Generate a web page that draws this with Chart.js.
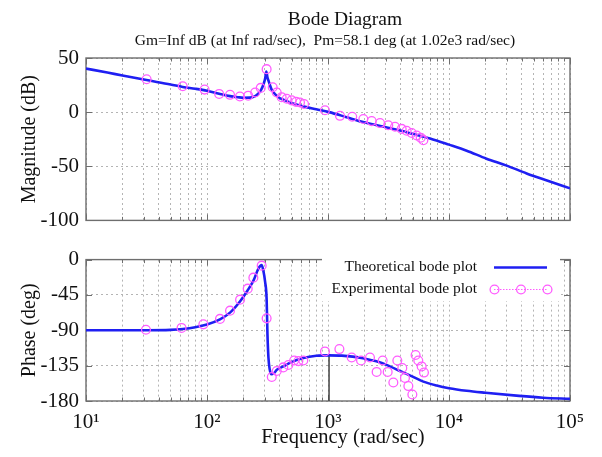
<!DOCTYPE html>
<html>
<head>
<meta charset="utf-8">
<title>Bode Diagram</title>
<script src="https://cdn.jsdelivr.net/npm/chart.js@4.4.1/dist/chart.umd.min.js"></script>
<style>
  html, body { margin: 0; padding: 0; background: #ffffff; }
  #wrap { position: relative; width: 602px; height: 457px; overflow: hidden; }
  #magBox { position: absolute; left: 0; top: 0; width: 602px; height: 240px; }
  #phaseBox { position: absolute; left: 0; top: 240px; width: 602px; height: 217px; }
</style>
</head>
<body>
<div id="wrap">
  <div id="magBox"><canvas id="magChart"></canvas></div>
  <div id="phaseBox"><canvas id="phaseChart"></canvas></div>
</div>
<script>
// ---- Axis definitions ----
const decades = [10, 100, 1000, 10000, 100000];
const decadeLabels = ['10\u00B9', '10\u00B2', '10\u00B3', '10\u2074', '10\u2075'];
const magTicks = [50, 0, -50, -100];
const phaseTicks = [0, -45, -90, -135, -180];

// ---- Stability margins ----
const pmDeg = 58.1;      // phase margin, deg
const pmFreq = 1020;     // gain crossover, rad/sec
const titleText = 'Bode Diagram';
const subtitleText = 'Gm=Inf dB (at Inf rad/sec),  Pm=' + pmDeg + ' deg (at 1.02e3 rad/sec)';

// ---- Theoretical response ----
const theoMagFreq = [10, 15, 20, 31.6, 50, 63, 80, 100, 126, 155, 180, 200, 225, 250, 265, 280, 295, 303, 309, 316, 324, 340, 355, 390, 427, 500, 631, 800, 1020, 1400, 1950, 2700, 3800, 5000, 6966, 10000, 14000, 20400, 30000, 43800, 64500, 100000];
const theoMagDb   = [40.2, 36.6, 33.8, 29.6, 25.6, 23.3, 21.6, 19.7, 17.0, 14.8, 13.8, 13.3, 13.4, 14.8, 17.0, 20.5, 26.7, 31.5, 37.5, 32.0, 28.2, 21.5, 18.1, 13.8, 11.5, 8.4, 5.2, 2.6, 0, -4.4, -9.2, -12.8, -16.5, -20.0, -24.3, -30.0, -35.6, -43.0, -49.4, -56.6, -63.2, -70.4];

const theoPhaseFreq = [10, 31.6, 50, 63, 80, 100, 128, 155, 188, 215, 242, 266, 283, 292, 302, 311, 316, 322, 330, 340, 355, 380, 427, 500, 625, 800, 1020, 1300, 1600, 2000, 2512, 3150, 3936, 5000, 6138, 7907, 10000, 14000, 20000, 38000, 60000, 100000];
const theoPhaseDeg  = [-90, -90, -89.5, -88.3, -86, -82.5, -76, -67.5, -53, -40, -26.8, -11.5, -7, -14, -28, -50, -95, -125, -140, -146, -145, -140, -136, -130.5, -125.4, -122.5, -121.9, -122.2, -123.5, -126, -129.5, -135, -141.8, -149, -155.3, -160.3, -163.7, -167, -169.5, -173.5, -175.8, -177.3];

// ---- Measured response ----
const expMagFreq = [31.7, 63, 95.5, 126, 155, 187, 219, 250, 278, 311, 349, 377, 414, 456, 501, 545, 587, 634, 944, 1256, 1585, 1959, 2296, 2692, 3148, 3581, 4064, 4467, 4920, 5408, 5834, 6138];
const expMagDb   = [30.4, 23.9, 20.8, 16.8, 16.0, 14.4, 15.2, 18.1, 22.4, 39.7, 23.0, 18.1, 13.8, 12.4, 10.9, 9.5, 8.9, 7.5, 1.7, -3.4, -4.3, -6.3, -8.3, -10.1, -12.1, -13.5, -15.5, -17.2, -19.3, -21.6, -23.6, -25.9];

const expPhaseFreq = [31.3, 61.6, 93.3, 128, 155, 187.6, 217, 241.6, 283, 311, 343, 377, 427, 470, 525, 569, 625, 944, 1242, 1570, 1875, 2223, 2523, 2831, 3112, 3467, 3741, 4111, 4325, 4613, 4977, 5297, 5572, 5943, 6209];
const expPhaseDeg  = [-89.3, -87, -82.4, -75.5, -65, -51, -37, -23, -7.7, -74.8, -149.5, -141.8, -137.2, -134.2, -128.4, -129.2, -128.4, -116.9, -113.9, -124.6, -128.4, -124.6, -143, -128.4, -143, -156.4, -128.4, -138, -150.6, -161, -171.7, -121.5, -128.4, -136, -143.8];

// ---- Styling ----
const SERIF = "'Liberation Serif', 'Times New Roman', serif";
const BLUE = '#1f1ff2';
const MAGENTA = '#ff5cff';
const GRID = '#b4b4b4';
const FRAME = '#6e6e6e';
const INK = '#111111';

const toPoints = (xs, ys) => xs.map((x, i) => ({ x: x, y: ys[i] }));

function logGridTicks() {
  const out = [];
  decades.forEach((d, i) => {
    if (i === decades.length - 1) { out.push({ value: d }); return; }
    for (let m = 1; m < 10; m++) out.push({ value: d * m });
  });
  return out;
}

// frame around the plot area plus short inward tick marks on every edge
const framePlugin = {
  id: 'frame',
  beforeDatasetsDraw(chart) {
    const { ctx, chartArea: a, scales } = chart;
    ctx.save();
    ctx.strokeStyle = FRAME;
    ctx.lineWidth = 1;
    ctx.setLineDash([]);
    ctx.beginPath();
    scales.x.ticks.forEach(t => {
      const px = Math.round(scales.x.getPixelForValue(t.value)) + 0.5;
      const len = decades.includes(t.value) ? 6 : 3.5;
      ctx.moveTo(px, a.bottom); ctx.lineTo(px, a.bottom - len);
      ctx.moveTo(px, a.top); ctx.lineTo(px, a.top + len);
    });
    scales.y.ticks.forEach(t => {
      const py = Math.round(scales.y.getPixelForValue(t.value)) + 0.5;
      ctx.moveTo(a.left, py); ctx.lineTo(a.left + 6, py);
      ctx.moveTo(a.right, py); ctx.lineTo(a.right - 6, py);
    });
    ctx.stroke();
    ctx.lineWidth = 1.4;
    ctx.strokeRect(a.left, a.top, a.right - a.left, a.bottom - a.top);
    ctx.restore();
  }
};

// free text: titles and axis caption
function textPlugin(id, items) {
  return {
    id: id,
    afterDraw(chart) {
      const ctx = chart.ctx;
      ctx.save();
      items.forEach(it => {
        ctx.font = it.font;
        ctx.fillStyle = INK;
        ctx.textAlign = 'center';
        ctx.textBaseline = 'alphabetic';
        ctx.fillText(it.text, it.x, it.y);
      });
      ctx.restore();
    }
  };
}

// key inside the phase panel, styled from the datasets it names
const keyPlugin = {
  id: 'key',
  afterDatasetsDraw(chart) {
    const ctx = chart.ctx;
    const theo = chart.data.datasets[1];
    const exp = chart.data.datasets[0];
    ctx.save();
    ctx.fillStyle = '#ffffff';
    ctx.fillRect(322, 13, 238, 48);
    ctx.font = '15.5px ' + SERIF;
    ctx.fillStyle = INK;
    ctx.textAlign = 'right';
    ctx.textBaseline = 'alphabetic';
    ctx.fillText(theo.label, 477, 31);
    ctx.fillText(exp.label, 477, 53);
    // line sample
    ctx.strokeStyle = theo.borderColor;
    ctx.lineWidth = theo.borderWidth;
    ctx.beginPath();
    ctx.moveTo(494, 27.5); ctx.lineTo(547, 27.5);
    ctx.stroke();
    // marker sample
    ctx.strokeStyle = exp.pointBorderColor;
    ctx.lineWidth = 1;
    ctx.setLineDash([1.5, 1.5]);
    ctx.beginPath();
    ctx.moveTo(494, 49.5); ctx.lineTo(547, 49.5);
    ctx.stroke();
    ctx.setLineDash([]);
    ctx.lineWidth = exp.pointBorderWidth;
    [494.5, 521, 547.5].forEach(cx => {
      ctx.beginPath();
      ctx.arc(cx, 49.5, exp.pointRadius, 0, Math.PI * 2);
      ctx.stroke();
    });
    ctx.restore();
  }
};

function xScale(showLabels, height) {
  return {
    type: 'logarithmic',
    min: 10,
    max: 100000,
    afterBuildTicks: s => { s.ticks = logGridTicks(); },
    afterFit: s => { s.height = height; },
    grid: { color: GRID, lineWidth: 1, drawTicks: false },
    border: { display: false, dash: [2, 3] },
    ticks: {
      display: showLabels,
      autoSkip: false,
      maxRotation: 0,
      minRotation: 0,
      padding: 9,
      color: INK,
      font: { family: SERIF, size: 21 },
      callback: v => {
        const i = decades.indexOf(v);
        return i >= 0 ? decadeLabels[i] : '';
      }
    }
  };
}

function yScale(tickVals, title) {
  return {
    type: 'linear',
    min: Math.min(...tickVals),
    max: Math.max(...tickVals),
    afterBuildTicks: s => { s.ticks = tickVals.map(v => ({ value: v })); },
    afterFit: s => { s.width = 86; },
    grid: { color: GRID, lineWidth: 1, drawTicks: false },
    border: { display: false, dash: [2, 3] },
    ticks: {
      color: INK,
      padding: 7,
      font: { family: SERIF, size: 21 }
    },
    title: {
      display: true,
      text: title,
      color: INK,
      font: { family: SERIF, size: 20 },
      padding: { top: 18, bottom: 0 }
    }
  };
}

function baseOptions(pad, xs, ys) {
  return {
    responsive: true,
    maintainAspectRatio: false,
    animation: false,
    devicePixelRatio: 1,
    layout: { padding: pad },
    plugins: { legend: { display: false }, tooltip: { enabled: false }, title: { display: false } },
    scales: { x: xs, y: ys }
  };
}

const expStyle = {
  showLine: false,
  pointStyle: 'circle',
  pointRadius: 4.4,
  pointBorderWidth: 1.3,
  pointBorderColor: MAGENTA,
  pointBackgroundColor: 'rgba(0,0,0,0)',
  borderColor: MAGENTA
};
const theoStyle = {
  borderColor: BLUE,
  borderWidth: 2.6,
  pointRadius: 0,
  cubicInterpolationMode: 'monotone',
  fill: false
};

new Chart(document.getElementById('magChart'), {
  type: 'line',
  data: {
    datasets: [
      Object.assign({ label: 'Experimental bode plot', data: toPoints(expMagFreq, expMagDb) }, expStyle),
      Object.assign({ label: 'Theoretical bode plot', data: toPoints(theoMagFreq, theoMagDb) }, theoStyle)
    ]
  },
  options: baseOptions({ top: 58, right: 32, bottom: 8, left: 0 }, xScale(false, 0), yScale(magTicks, 'Magnitude (dB)')),
  plugins: [framePlugin, textPlugin('titles', [
    { text: titleText, x: 345, y: 25, font: '19.5px ' + SERIF },
    { text: subtitleText, x: 325, y: 45, font: '15.5px ' + SERIF }
  ])]
});

new Chart(document.getElementById('phaseChart'), {
  type: 'line',
  data: {
    datasets: [
      Object.assign({ label: 'Experimental bode plot', data: toPoints(expPhaseFreq, expPhaseDeg) }, expStyle),
      Object.assign({ label: 'Theoretical bode plot', data: toPoints(theoPhaseFreq, theoPhaseDeg) }, theoStyle),
      {
        label: 'Phase margin',
        data: [{ x: pmFreq, y: -180 + pmDeg }, { x: pmFreq, y: -180 }],
        borderColor: '#444444',
        borderWidth: 1.5,
        pointRadius: 0,
        fill: false
      }
    ]
  },
  options: baseOptions({ top: 5, right: 32, bottom: 0, left: 0 }, xScale(true, 56), yScale(phaseTicks, 'Phase (deg)')),
  plugins: [framePlugin, keyPlugin, textPlugin('caption', [
    { text: 'Frequency (rad/sec)', x: 343, y: 203, font: '20.5px ' + SERIF }
  ])]
});
</script>
</body>
</html>
